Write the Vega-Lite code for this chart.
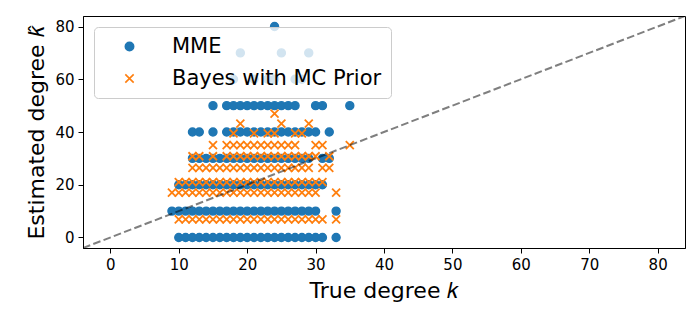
{
  "$schema": "https://vega.github.io/schema/vega-lite/v6.json",
  "width": 602,
  "height": 232,
  "autosize": {"type": "none"},
  "padding": {"left": 83, "top": 16, "right": 15, "bottom": 72},
  "background": "white",
  "config": {
    "font": "DejaVu Sans",
    "view": {"stroke": "black", "strokeWidth": 1},
    "axis": {"grid": false, "domainColor": "black", "tickColor": "black", "labelColor": "black", "titleColor": "black", "labelFont": "DejaVu Sans", "titleFont": "DejaVu Sans", "labelFontSize": 15, "titleFontSize": 22, "titleFontWeight": "normal", "tickSize": 5, "labelPadding": 4, "domainWidth": 1, "tickWidth": 1},
    "legend": {"orient": "top-left", "offset": 11, "labelFontSize": 21, "labelFont": "DejaVu Sans", "labelColor": "black", "labelLimit": 0, "fillColor": "rgba(255,255,255,0.8)", "strokeColor": "#cccccc", "cornerRadius": 4, "padding": 9, "symbolSize": 70, "symbolStrokeWidth": 1.6, "symbolOffset": 16, "labelOffset": 32, "rowPadding": 10, "symbolOpacity": 1}
  },
  "datasets": {
    "pts": [
      {"k":10,"mme":0,"bayes":6.9},{"k":11,"mme":0,"bayes":6.9},{"k":12,"mme":0,"bayes":6.9},{"k":13,"mme":0,"bayes":6.9},{"k":14,"mme":0,"bayes":6.9},{"k":15,"mme":0,"bayes":6.9},{"k":16,"mme":0,"bayes":6.9},{"k":17,"mme":0,"bayes":6.9},{"k":18,"mme":0,"bayes":6.9},{"k":19,"mme":0,"bayes":6.9},{"k":20,"mme":0,"bayes":6.9},{"k":21,"mme":0,"bayes":6.9},{"k":22,"mme":0,"bayes":6.9},{"k":23,"mme":0,"bayes":6.9},{"k":24,"mme":0,"bayes":6.9},{"k":25,"mme":0,"bayes":6.9},{"k":26,"mme":0,"bayes":6.9},{"k":27,"mme":0,"bayes":6.9},{"k":28,"mme":0,"bayes":6.9},{"k":29,"mme":0,"bayes":6.9},{"k":30,"mme":0,"bayes":6.9},{"k":31,"mme":0,"bayes":6.9},{"k":33,"mme":0,"bayes":6.9},
      {"k":9,"mme":10,"bayes":17.0},{"k":10,"mme":10,"bayes":17.0},{"k":11,"mme":10,"bayes":17.0},{"k":12,"mme":10,"bayes":17.0},{"k":13,"mme":10,"bayes":17.0},{"k":14,"mme":10,"bayes":17.0},{"k":15,"mme":10,"bayes":17.0},{"k":16,"mme":10,"bayes":17.0},{"k":17,"mme":10,"bayes":17.0},{"k":18,"mme":10,"bayes":17.0},{"k":19,"mme":10,"bayes":17.0},{"k":20,"mme":10,"bayes":17.0},{"k":21,"mme":10,"bayes":17.0},{"k":22,"mme":10,"bayes":17.0},{"k":23,"mme":10,"bayes":17.0},{"k":24,"mme":10,"bayes":17.0},{"k":25,"mme":10,"bayes":17.0},{"k":26,"mme":10,"bayes":17.0},{"k":27,"mme":10,"bayes":17.0},{"k":28,"mme":10,"bayes":17.0},{"k":29,"mme":10,"bayes":17.0},{"k":30,"mme":10,"bayes":17.0},{"k":33,"mme":10,"bayes":17.0},
      {"k":10,"mme":20,"bayes":21.0},{"k":11,"mme":20,"bayes":21.0},{"k":12,"mme":20,"bayes":21.0},{"k":13,"mme":20,"bayes":21.0},{"k":14,"mme":20,"bayes":21.0},{"k":15,"mme":20,"bayes":21.0},{"k":16,"mme":20,"bayes":21.0},{"k":17,"mme":20,"bayes":21.0},{"k":18,"mme":20,"bayes":21.0},{"k":19,"mme":20,"bayes":21.0},{"k":20,"mme":20,"bayes":21.0},{"k":21,"mme":20,"bayes":21.0},{"k":22,"mme":20,"bayes":21.0},{"k":23,"mme":20,"bayes":21.0},{"k":24,"mme":20,"bayes":21.0},{"k":25,"mme":20,"bayes":21.0},{"k":26,"mme":20,"bayes":21.0},{"k":27,"mme":20,"bayes":21.0},{"k":28,"mme":20,"bayes":21.0},{"k":29,"mme":20,"bayes":21.0},{"k":30,"mme":20,"bayes":21.0},{"k":31,"mme":20,"bayes":21.0},
      {"k":12,"mme":30,"bayes":26.4},{"k":13,"mme":30,"bayes":26.4},{"k":14,"mme":30,"bayes":26.4},{"k":15,"mme":30,"bayes":26.4},{"k":16,"mme":30,"bayes":26.4},{"k":17,"mme":30,"bayes":26.4},{"k":18,"mme":30,"bayes":26.4},{"k":19,"mme":30,"bayes":26.4},{"k":20,"mme":30,"bayes":26.4},{"k":21,"mme":30,"bayes":26.4},{"k":22,"mme":30,"bayes":26.4},{"k":23,"mme":30,"bayes":26.4},{"k":24,"mme":30,"bayes":26.4},{"k":25,"mme":30,"bayes":26.4},{"k":26,"mme":30,"bayes":26.4},{"k":27,"mme":30,"bayes":26.4},{"k":28,"mme":30,"bayes":26.4},{"k":29,"mme":30,"bayes":26.4},{"k":31,"mme":30,"bayes":26.4},{"k":32,"mme":30,"bayes":26.4},
      {"k":12,"mme":40,"bayes":30.8},{"k":13,"mme":40,"bayes":30.8},{"k":15,"mme":40,"bayes":30.8},{"k":17,"mme":40,"bayes":30.8},{"k":18,"mme":40,"bayes":30.8},{"k":19,"mme":40,"bayes":30.8},{"k":20,"mme":40,"bayes":30.8},{"k":21,"mme":40,"bayes":30.8},{"k":22,"mme":40,"bayes":30.8},{"k":23,"mme":40,"bayes":30.8},{"k":24,"mme":40,"bayes":30.8},{"k":25,"mme":40,"bayes":30.8},{"k":26,"mme":40,"bayes":30.8},{"k":27,"mme":40,"bayes":30.8},{"k":28,"mme":40,"bayes":30.8},{"k":29,"mme":40,"bayes":30.8},{"k":30,"mme":40,"bayes":30.8},{"k":32,"mme":40,"bayes":30.8},
      {"k":15,"mme":50,"bayes":35.0},{"k":17,"mme":50,"bayes":35.0},{"k":18,"mme":50,"bayes":35.0},{"k":19,"mme":50,"bayes":35.0},{"k":20,"mme":50,"bayes":35.0},{"k":21,"mme":50,"bayes":35.0},{"k":22,"mme":50,"bayes":35.0},{"k":23,"mme":50,"bayes":35.0},{"k":24,"mme":50,"bayes":35.0},{"k":25,"mme":50,"bayes":35.0},{"k":26,"mme":50,"bayes":35.0},{"k":27,"mme":50,"bayes":35.0},{"k":30,"mme":50,"bayes":35.0},{"k":31,"mme":50,"bayes":35.0},{"k":35,"mme":50,"bayes":35.0},
      {"k":18,"mme":60,"bayes":39.5},{"k":21,"mme":60,"bayes":39.5},{"k":23,"mme":60,"bayes":39.5},{"k":24,"mme":60,"bayes":39.5},{"k":27,"mme":60,"bayes":39.5},{"k":28,"mme":60,"bayes":39.5},
      {"k":19,"mme":70,"bayes":43.2},{"k":25,"mme":70,"bayes":43.2},{"k":29,"mme":70,"bayes":43.2},
      {"k":24,"mme":80,"bayes":47.0}
    ],
    "diag": [{"x": -4, "y": -4}, {"x": 84, "y": 84}]
  },
  "layer": [
    {
      "data": {"name": "pts"},
      "mark": {"type": "point", "filled": true, "size": 64, "strokeWidth": 1.4, "opacity": 1},
      "encoding": {
        "x": {"field": "k", "type": "quantitative", "scale": {"domain": [-4, 84], "nice": false, "zero": false}, "axis": {"values": [0,10,20,30,40,50,60,70,80], "title": "True degree 𝑘", "titlePadding": 8}},
        "y": {"field": "mme", "type": "quantitative", "scale": {"domain": [-4, 84], "nice": false, "zero": false}, "axis": {"values": [0,20,40,60,80], "title": "Estimated degree 𝑘̂", "titlePadding": 6}},
        "fill": {"datum": "MME", "type": "nominal", "scale": {"domain": ["MME", "Bayes with MC Prior"], "range": ["#1f77b4", "#ff7f0e"]}, "title": null},
        "stroke": {"datum": "MME", "type": "nominal", "scale": {"domain": ["MME", "Bayes with MC Prior"], "range": ["#1f77b4", "#ff7f0e"]}, "title": null},
        "shape": {"datum": "MME", "type": "nominal", "scale": {"domain": ["MME", "Bayes with MC Prior"], "range": ["circle", "M-1,-1L1,1M1,-1L-1,1"]}, "title": null}
      }
    },
    {
      "data": {"name": "pts"},
      "mark": {"type": "point", "filled": true, "size": 64, "strokeWidth": 1.8, "opacity": 1},
      "encoding": {
        "x": {"field": "k", "type": "quantitative", "axis": {"values": [0,10,20,30,40,50,60,70,80], "title": "True degree 𝑘", "titlePadding": 8}},
        "y": {"field": "bayes", "type": "quantitative", "axis": {"values": [0,20,40,60,80], "title": "Estimated degree 𝑘̂", "titlePadding": 6}},
        "fill": {"datum": "Bayes with MC Prior", "type": "nominal", "title": null},
        "stroke": {"datum": "Bayes with MC Prior", "type": "nominal", "title": null},
        "shape": {"datum": "Bayes with MC Prior", "type": "nominal", "title": null}
      }
    },
    {
      "data": {"name": "diag"},
      "mark": {"type": "line", "color": "black", "opacity": 0.5, "strokeDash": [7.7, 3.3], "strokeWidth": 2, "clip": true},
      "encoding": {
        "x": {"field": "x", "type": "quantitative"},
        "y": {"field": "y", "type": "quantitative"}
      }
    }
  ]
}
